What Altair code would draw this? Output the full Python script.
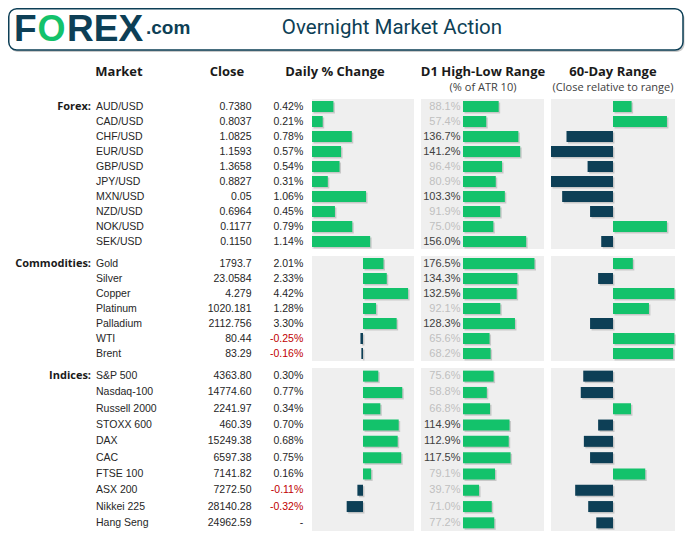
import altair as alt
import pandas as pd

# ---------------- data ----------------
forex_names = ["AUD/USD", "CAD/USD", "CHF/USD", "EUR/USD", "GBP/USD", "JPY/USD",
               "MXN/USD", "NZD/USD", "NOK/USD", "SEK/USD"]
forex_close = ["0.7380", "0.8037", "1.0825", "1.1593", "1.3658", "0.8827",
               "0.05", "0.6964", "0.1177", "0.1150"]
forex_daily = [0.42, 0.21, 0.78, 0.57, 0.54, 0.31, 1.06, 0.45, 0.79, 1.14]
forex_d1 = [88.1, 57.4, 136.7, 141.2, 96.4, 80.9, 103.3, 91.9, 75.0, 156.0]
forex_60d = [15, 43.5, -37.5, -50, -20.5, -50, -41, -18.5, 43.5, -9.5]

commod_names = ["Gold", "Silver", "Copper", "Platinum", "Palladium", "WTI", "Brent"]
commod_close = ["1793.7", "23.0584", "4.279", "1020.181", "2112.756", "80.44", "83.29"]
commod_daily = [2.01, 2.33, 4.42, 1.28, 3.30, -0.25, -0.16]
commod_d1 = [176.5, 134.3, 132.5, 92.1, 128.3, 65.6, 68.2]
commod_60d = [16, -12, 49.5, 29, -18.5, 49.5, 48.5]

idx_names = ["S&P 500", "Nasdaq-100", "Russell 2000", "STOXX 600", "DAX", "CAC",
             "FTSE 100", "ASX 200", "Nikkei 225", "Hang Seng"]
idx_close = ["4363.80", "14774.60", "2241.97", "460.39", "15249.38", "6597.38",
             "7141.82", "7272.50", "28140.28", "24962.59"]
idx_daily = [0.30, 0.77, 0.34, 0.70, 0.68, 0.75, 0.16, -0.11, -0.32, None]
idx_d1 = [75.6, 58.8, 66.8, 114.9, 112.9, 117.5, 79.1, 39.7, 71.0, 77.2]
idx_60d = [-24, -26, 14.5, -12, -23.5, -18.5, 26, -30.5, -20, -13.5]

column_headers = ["Market", "Close", "Daily % Change", "D1 High-Low Range", "60-Day Range"]
sub_headers = ["(% of ATR 10)", "(Close relative to range)"]
title_text = "Overnight Market Action"

# ---------------- style ----------------
GREEN = "#13C26B"
NAVY = "#0D3F56"
BG = "#EFEFEF"
W = 677
BODY = "Liberation Sans"
HEAD = "Open Sans"

one = pd.DataFrame({"k": [0]})


def fmt_daily(v):
    return "-" if v is None else f"{v:.2f}%"


def section(label, names, closes, daily, d1, d60, daily_domain, height):
    df = pd.DataFrame({
        "name": names,
        "close": closes,
        "daily": daily,
        "daily_txt": [fmt_daily(v) for v in daily],
        "d1": d1,
        "d1_txt": [f"{v:.1f}%" for v in d1],
        "d60": d60,
        "label": [label] + [""] * (len(names) - 1),
    })
    base = alt.Chart(df)
    y = alt.Y("name:N", sort=names,
              scale=alt.Scale(domain=names, paddingInner=0, paddingOuter=0),
              axis=None)

    def bg(x0, x1):
        return alt.Chart(one).mark_rect(color=BG).encode(
            x=alt.value(x0), x2=alt.value(x1), y=alt.value(0), y2=alt.value(height))

    def bars(field, domain, rng):
        xs = alt.X(f"{field}:Q", scale=alt.Scale(domain=domain, range=rng), axis=None)
        shadow = base.mark_bar(size=11, color="#000000", opacity=0.16,
                               xOffset=1.5, yOffset=1.5).encode(x=xs, y=y)
        main = base.mark_bar(size=11).encode(
            x=xs, y=y,
            color=alt.condition(f"datum.{field} < 0", alt.value(NAVY), alt.value(GREEN)))
        return [shadow, main]

    lab = base.mark_text(align="right", baseline="middle", font=HEAD, fontWeight="bold",
                         fontSize=11, color="#1a1a1a").encode(
        x=alt.value(83), y=y, text="label:N")
    nm = base.mark_text(align="left", baseline="middle", font=BODY, fontSize=10.5,
                        color="#262626").encode(x=alt.value(88), y=y, text="name:N")
    cl = base.mark_text(align="right", baseline="middle", font=BODY, fontSize=10.5,
                        color="#262626").encode(x=alt.value(243.5), y=y, text="close:N")
    dt = base.mark_text(align="right", baseline="middle", font=BODY, fontSize=10.5).encode(
        x=alt.value(295.3), y=y, text="daily_txt:N",
        color=alt.condition("datum.daily < 0", alt.value("#C00000"), alt.value("#262626")))
    d1t = base.mark_text(align="right", baseline="middle", font=BODY, fontSize=11).encode(
        x=alt.value(452.5), y=y, text="d1_txt:N",
        color=alt.condition("datum.d1 >= 100", alt.value("#404040"), alt.value("#BFBFBF")))

    layers = [bg(304, 406), bg(413, 536), bg(543, 667), lab, nm, cl, dt, d1t]
    layers += bars("daily", daily_domain, [304, 406])
    layers += bars("d1", [0, 200], [455, 536])
    layers += bars("d60", [-50, 50], [543, 667])
    return alt.layer(*layers).properties(width=W, height=height).resolve_scale(x="independent")


# ---------------- header ----------------
def txt(s, x, yv, size, font, color, weight="normal", align="left", baseline="alphabetic"):
    return alt.Chart(one).mark_text(text=s, align=align, baseline=baseline, font=font,
                                    fontSize=size, fontWeight=weight, color=color).encode(
        x=alt.value(x), y=alt.value(yv))


box_shadow = alt.Chart(one).mark_rect(cornerRadius=8, color="#8a8a8a", opacity=0.45).encode(
    x=alt.value(2), x2=alt.value(676.5), y=alt.value(2.5), y2=alt.value(44))
box = alt.Chart(one).mark_rect(cornerRadius=8, fill="white", stroke=NAVY, strokeWidth=1.5).encode(
    x=alt.value(0.75), x2=alt.value(675), y=alt.value(0.75), y2=alt.value(42))

top_layers = [
    box_shadow, box,
    txt("F", 6, 33, 37, BODY, NAVY, "bold"),
    txt("O", 29.5, 33, 36, BODY, GREEN, "bold"),
    txt("REX", 59, 33, 37, BODY, NAVY, "bold"),
    txt(".com", 138, 26, 19, BODY, NAVY, "bold"),
    txt(title_text, 384, 20, 20.5, "Roboto", NAVY, align="center", baseline="middle"),
    txt(column_headers[0], 111, 64, 13, HEAD, "#1a1a1a", "bold", "center", "middle"),
    txt(column_headers[1], 219, 64, 13, HEAD, "#1a1a1a", "bold", "center", "middle"),
    txt(column_headers[2], 327, 64, 13, HEAD, "#1a1a1a", "bold", "center", "middle"),
    txt(column_headers[3], 475, 64, 13, HEAD, "#1a1a1a", "bold", "center", "middle"),
    txt(column_headers[4], 605, 64, 13, HEAD, "#1a1a1a", "bold", "center", "middle"),
    txt(sub_headers[0], 475, 80, 11, HEAD, "#404040", "normal", "center", "middle"),
    txt(sub_headers[1], 605, 80, 11, HEAD, "#404040", "normal", "center", "middle"),
]
top = alt.layer(*top_layers).properties(width=W, height=84)

forex = section("Forex:", forex_names, forex_close, forex_daily, forex_d1, forex_60d, [0, 2], 150)
commod = section("Commodities:", commod_names, commod_close, commod_daily, commod_d1, commod_60d,
                 [-5, 5], 105)
idx = section("Indices:", idx_names, idx_close, idx_daily, idx_d1, idx_60d, [-1, 1], 163)

chart = alt.vconcat(top, forex, commod, idx, spacing=7, bounds="flush").properties(
    padding=0, background="white"
).configure_view(strokeWidth=0)

chart.save("out.html", embed_options={"renderer": "svg", "actions": False})
